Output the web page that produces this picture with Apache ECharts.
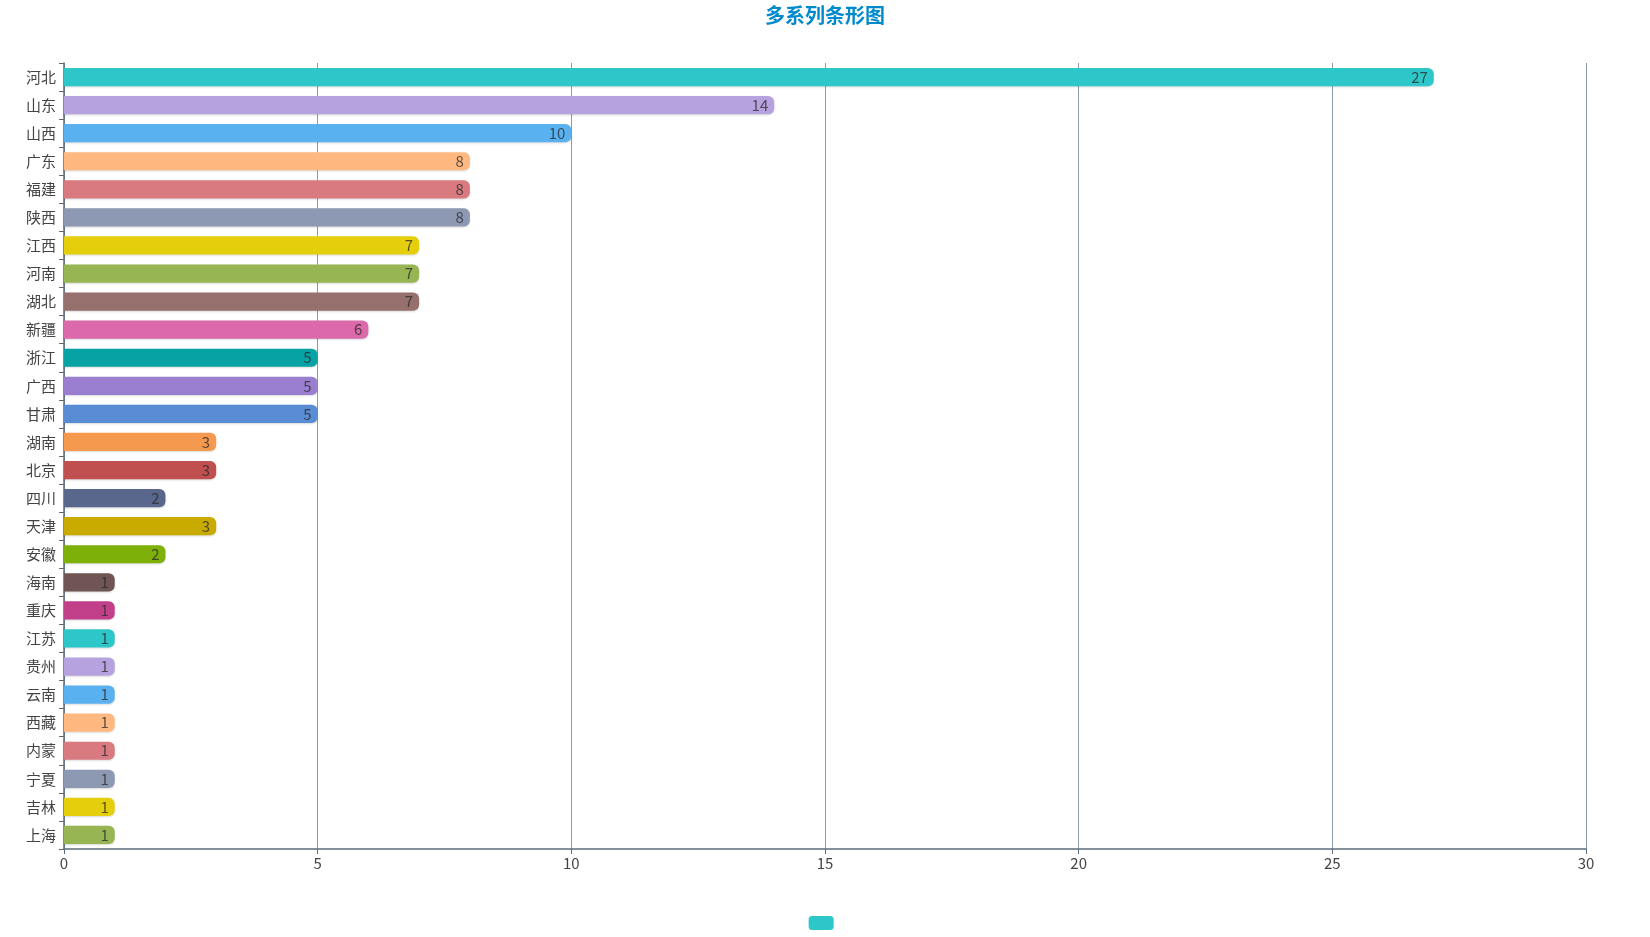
<!DOCTYPE html>
<html><head><meta charset="utf-8">
<script src="https://cdn.jsdelivr.net/npm/echarts@6/dist/echarts.min.js"></script>
<style>html,body{margin:0;padding:0;background:#fff}#c{width:1650px;height:937px}</style>
</head><body><div id="c"></div>
<script>
const categories = ['河北','山东','山西','广东','福建','陕西','江西','河南','湖北','新疆','浙江','广西','甘肃','湖南','北京','四川','天津','安徽','海南','重庆','江苏','贵州','云南','西藏','内蒙','宁夏','吉林','上海'];
const values = [27,14,10,8,8,8,7,7,7,6,5,5,5,3,3,2,3,2,1,1,1,1,1,1,1,1,1,1];
const palette = ['#2ec7c9','#b6a2de','#5ab1ef','#ffb980','#d87a80','#8d98b3','#e5cf0d','#97b552','#95706d','#dc69aa','#07a2a4','#9a7fd1','#588dd5','#f5994e','#c05050','#59678c','#c9ab00','#7eb00a','#6f5553','#c14089'];
const xTicks = [0,5,10,15,20,25,30];

const chart = echarts.init(document.getElementById('c'));
chart.setOption({
  textStyle:{fontFamily:'"Noto Sans CJK SC","Noto Sans",sans-serif'},
  title:{text:'多系列条形图',left:'center',top:0,textStyle:{color:'#008acd',fontSize:20,fontWeight:'bold'}},
  legend:{bottom:2,left:'center',itemWidth:25,itemHeight:14,data:[' '],itemStyle:{color:palette[0]}},
  grid:{left:64,right:64,top:63,bottom:88,containLabel:false},
  xAxis:{type:'value',min:xTicks[0],max:xTicks[xTicks.length-1],interval:5,
    axisLine:{show:true,lineStyle:{color:'#5b6d7d',width:1.5}},
    axisTick:{show:true,lineStyle:{color:'#5b6d7d'}},
    axisLabel:{color:'#444',fontSize:15,margin:7},
    splitLine:{show:true,lineStyle:{color:'#8c9cab',width:1}}},
  yAxis:{type:'category',inverse:true,data:categories,
    axisLine:{show:true,lineStyle:{color:'#5b6d7d',width:1.5}},
    axisTick:{show:true,lineStyle:{color:'#5b6d7d'}},
    axisLabel:{color:'#444',fontSize:15,margin:8},
    splitLine:{show:false}},
  series:[{name:' ',type:'bar',barWidth:'65%',
    data:values.map((v,i)=>({value:v,itemStyle:{color:palette[i%palette.length]}})),
    itemStyle:{borderRadius:[0,6,6,0],shadowColor:'rgba(0,0,0,0.15)',shadowBlur:2,shadowOffsetY:1},
    label:{show:true,position:'insideRight',color:'rgba(40,40,40,0.75)',fontSize:15,distance:6}}]
});
</script></body></html>
